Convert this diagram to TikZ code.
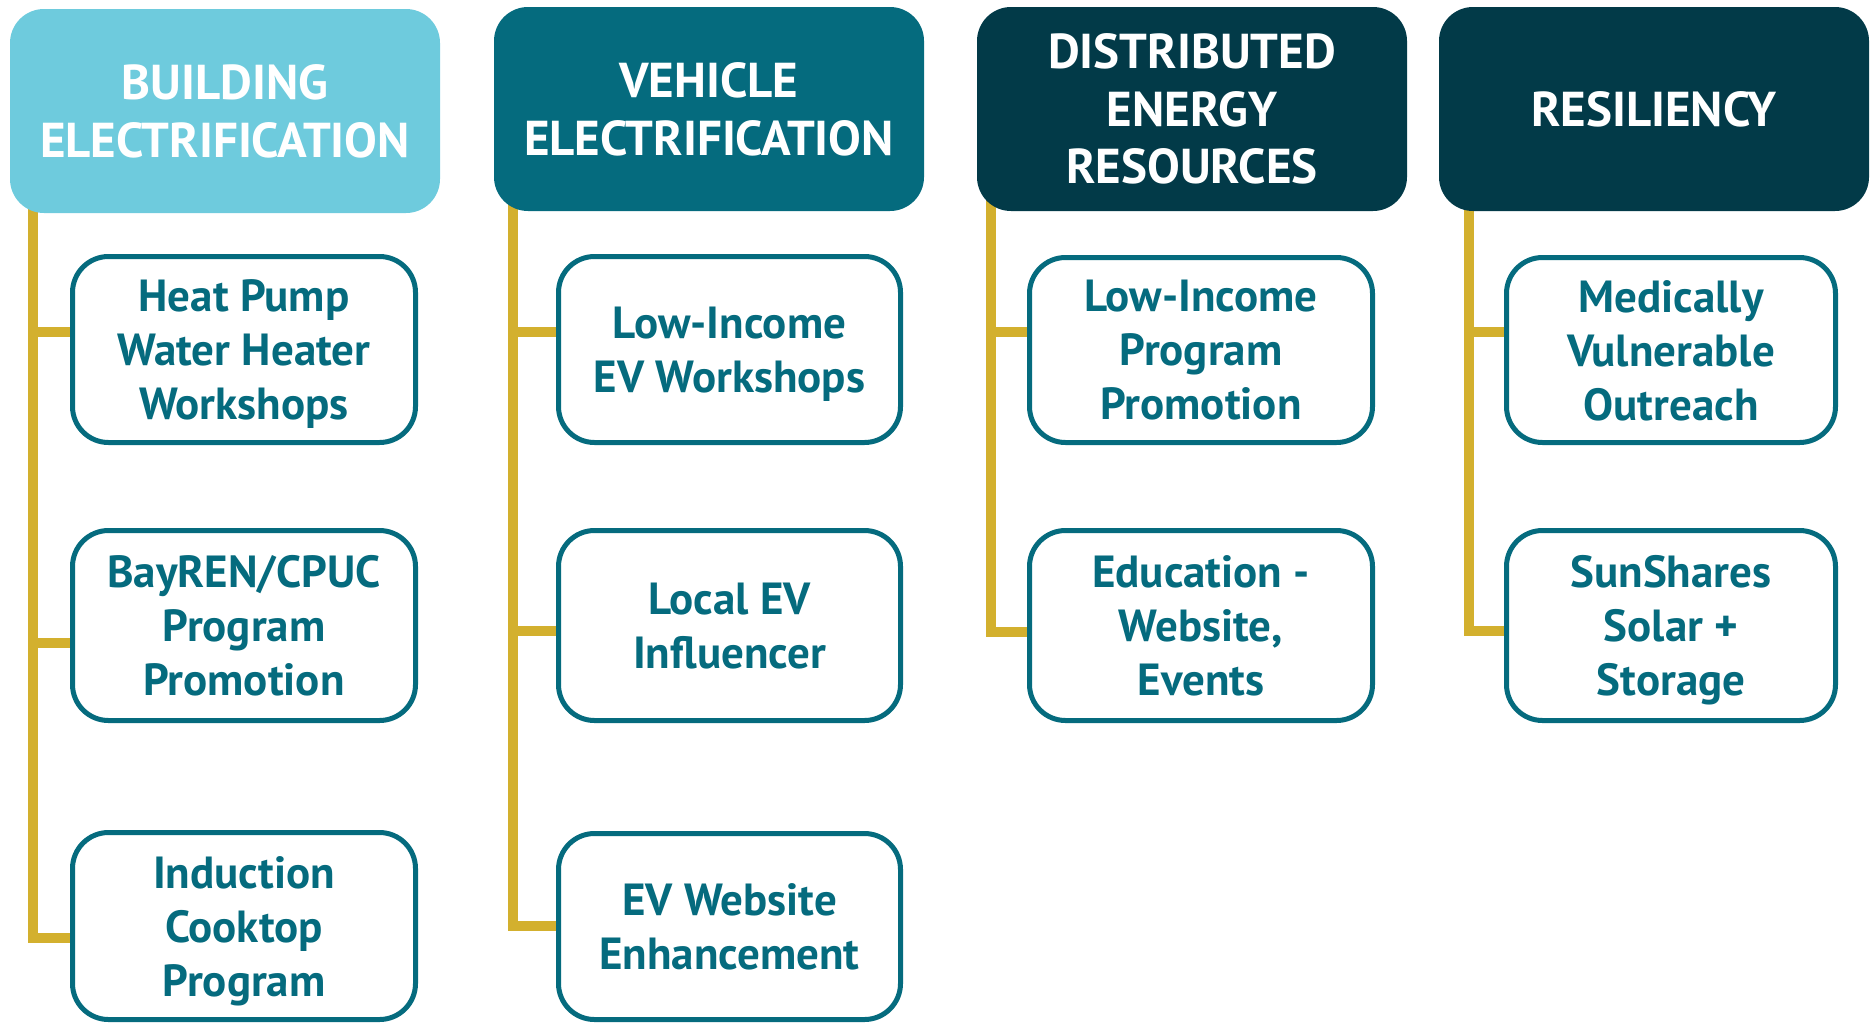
\documentclass[tikz,border=0pt]{standalone}
\usepackage{fontspec}
\setmainfont{PT Sans}
\usetikzlibrary{backgrounds}
\definecolor{lightcyan}{RGB}{110,203,221}
\definecolor{tealc}{RGB}{5,107,126}
\definecolor{darkc}{RGB}{2,58,72}
\definecolor{goldc}{RGB}{211,176,46}
\begin{document}
\begin{tikzpicture}[x=1pt,y=-1pt,
 head/.style={rectangle, rounded corners=34pt, text=white, font=\bfseries\fontsize{49}{57.5}\selectfont, align=center, inner sep=0pt, text depth=-5pt, minimum width=430pt, minimum height=204pt},
 item/.style={rectangle, rounded corners=36pt, draw=tealc, line width=5pt, fill=white, text=tealc, font=\bfseries\fontsize{45}{54}\selectfont, align=center, inner sep=0pt, text depth=0pt},
 link/.style={draw=goldc, line width=10pt}]
\useasboundingbox (0,0) rectangle (1873,1023);
% headers
\node[head, fill=lightcyan] (h1) at (225,111) {BUILDING\\ELECTRIFICATION};
\node[head, fill=tealc] (h2) at (709,109) {VEHICLE\\ELECTRIFICATION};
\node[head, fill=darkc] (h3) at (1192,109) {DISTRIBUTED\\ENERGY\\RESOURCES};
\node[head, fill=darkc] (h4) at (1654,109) {RESILIENCY};
% column 1
\node[item, minimum width=343pt, minimum height=186pt] (b11) at (244,349.5) {Heat Pump\\Water Heater\\Workshops};
\node[item, minimum width=343pt, minimum height=190pt] (b12) at (244,625.5) {BayREN/CPUC\\Program\\Promotion};
\node[item, minimum width=343pt, minimum height=187pt] (b13) at (244,926) {Induction\\Cooktop\\Program};
% column 2
\node[item, minimum width=342pt, minimum height=186pt] (b21) at (729.5,349.5) {Low-Income\\EV Workshops};
\node[item, minimum width=342pt, minimum height=190pt] (b22) at (729.5,625.5) {Local EV\\Influencer};
\node[item, minimum width=342pt, minimum height=186pt] (b23) at (729.5,926.5) {EV Website\\Enhancement};
% column 3
\node[item, minimum width=343pt, minimum height=185pt] (b31) at (1201,350) {Low-Income\\Program\\Promotion};
\node[item, minimum width=343pt, minimum height=190pt] (b32) at (1201,625.5) {Education -\\Website,\\Events};
% column 4
\node[item, minimum width=329pt, minimum height=185pt] (b41) at (1671,350) {Medically\\Vulnerable\\Outreach};
\node[item, minimum width=329pt, minimum height=190pt] (b42) at (1671,625.5) {SunShares\\Solar +\\Storage};
% connectors
\coordinate (t1) at (33,200);
\coordinate (j11) at (33,332);
\coordinate (j12) at (33,643);
\coordinate (j13) at (33,938);
\coordinate (t2) at (513,200);
\coordinate (j21) at (513,332);
\coordinate (j22) at (513,631);
\coordinate (j23) at (513,926);
\coordinate (t3) at (991,200);
\coordinate (j31) at (991,332);
\coordinate (j32) at (991,632);
\coordinate (t4) at (1469,200);
\coordinate (j41) at (1469,332);
\coordinate (j42) at (1469,631);
\begin{scope}[on background layer]
\draw[link] (t1) -- (j13) -- (b13.west |- j13);
\draw[link] (j11) -- (b11.west |- j11);
\draw[link] (j12) -- (b12.west |- j12);
\draw[link] (t2) -- (j23) -- (b23.west |- j23);
\draw[link] (j21) -- (b21.west |- j21);
\draw[link] (j22) -- (b22.west |- j22);
\draw[link] (t3) -- (j32) -- (b32.west |- j32);
\draw[link] (j31) -- (b31.west |- j31);
\draw[link] (t4) -- (j42) -- (b42.west |- j42);
\draw[link] (j41) -- (b41.west |- j41);
\end{scope}
\end{tikzpicture}
\end{document}
